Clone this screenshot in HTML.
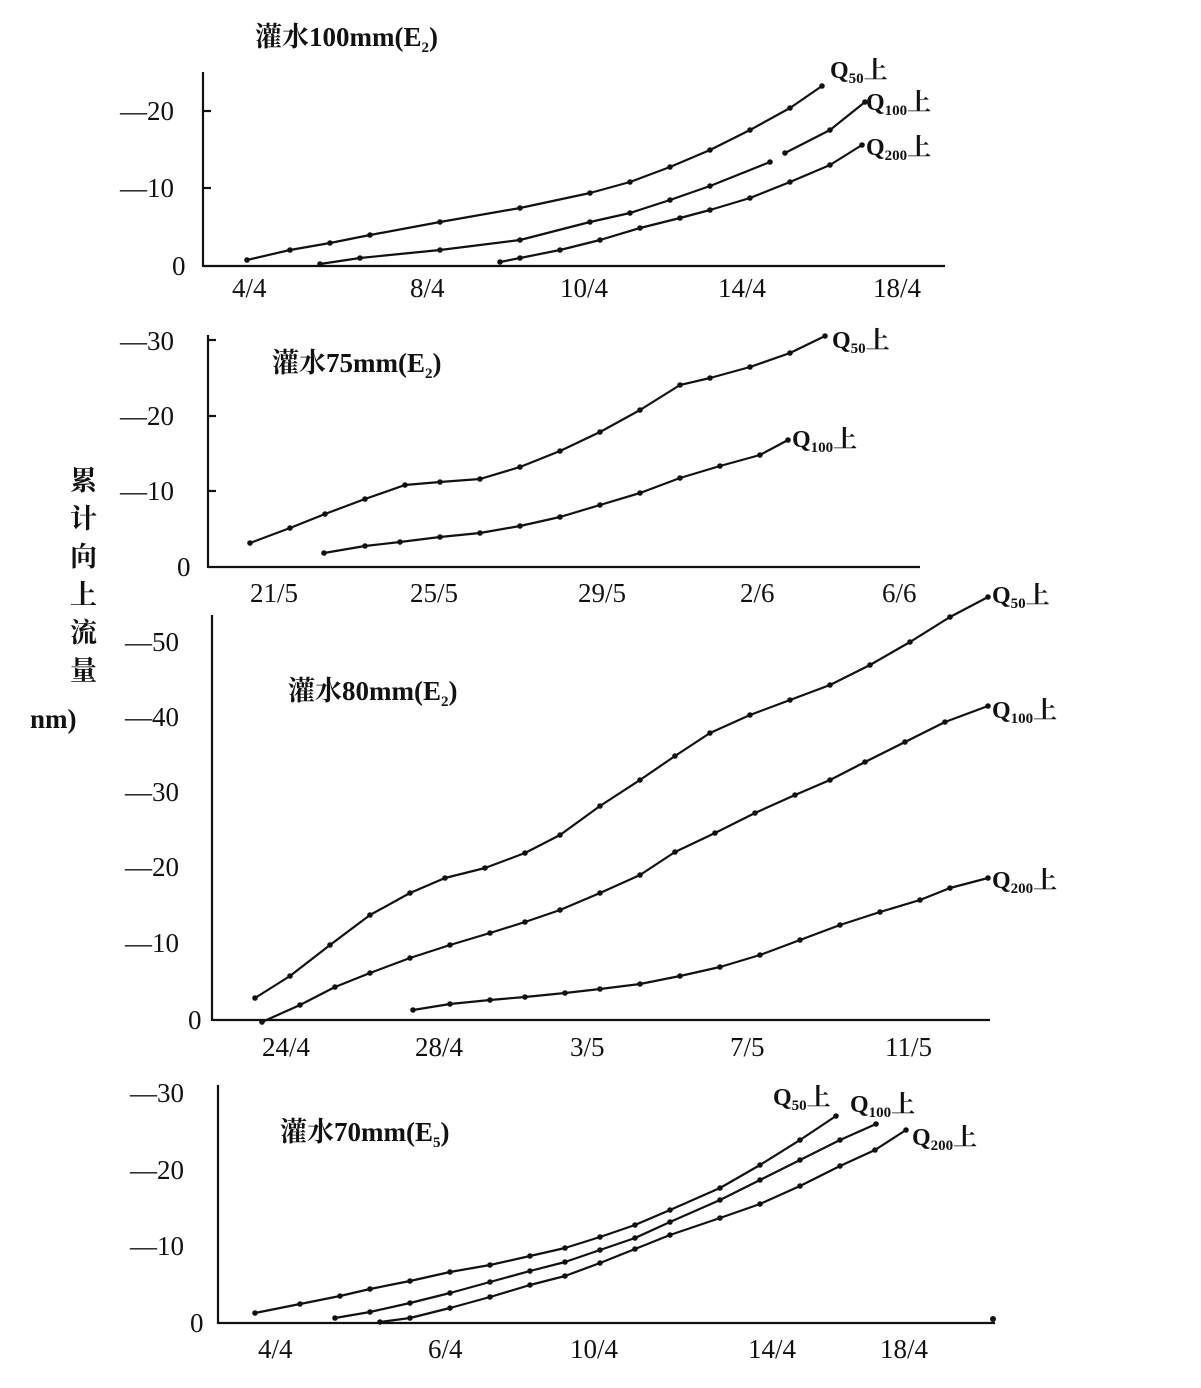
<!DOCTYPE html>
<html><head><meta charset="utf-8"><style>
body{margin:0;background:#fff}
svg{display:block}
text{font-family:"Liberation Serif","Noto Serif CJK SC",serif;fill:#111}
.t{font-size:27px;font-weight:bold}
.n{font-size:27px}
.q{font-size:24px;font-weight:bold}
.s{font-size:15px;font-weight:bold}
polyline{fill:none;stroke:#111;stroke-width:2.2;stroke-linejoin:round}
line{stroke:#111;stroke-width:2.2}
</style></head><body>
<svg width="1201" height="1388" viewBox="0 0 1201 1388" xmlns="http://www.w3.org/2000/svg">
<g id="p1">
<line x1="203" y1="72" x2="203" y2="267"/><line x1="203" y1="266" x2="945" y2="266"/>
<line x1="203" y1="188" x2="211" y2="188"/><line x1="203" y1="111" x2="211" y2="111"/>
<text class="n" x="120" y="120">—20</text><text class="n" x="120" y="197">—10</text><text class="n" x="172" y="275">0</text>
<text class="n" x="232" y="297">4/4</text><text class="n" x="410" y="297">8/4</text><text class="n" x="560" y="297">10/4</text><text class="n" x="718" y="297">14/4</text><text class="n" x="873" y="297">18/4</text>
<text class="t" x="255" y="46">灌水100mm(E<tspan class="s" dy="6">2</tspan><tspan dy="-6">)</tspan></text>
<polyline points="247,260 290,250 330,243 370,235 440,222 520,208 590,193 630,182 670,167 710,150 750,130 790,108 822,86"/>
<polyline points="320,264 360,258 440,250 520,240 590,222 630,213 670,200 710,186 770,162"/>
<polyline points="785,153 830,130 865,102"/>
<polyline points="500,262 520,258 560,250 600,240 640,228 680,218 710,210 750,198 790,182 830,165 862,145"/>
<text class="q" x="830" y="78">Q<tspan class="s" dy="5">50</tspan><tspan dy="-5">上</tspan></text>
<text class="q" x="866" y="110">Q<tspan class="s" dy="5">100</tspan><tspan dy="-5">上</tspan></text>
<text class="q" x="866" y="155">Q<tspan class="s" dy="5">200</tspan><tspan dy="-5">上</tspan></text>
</g>
<g id="p2">
<line x1="208" y1="335" x2="208" y2="568"/><line x1="208" y1="567" x2="920" y2="567"/>
<line x1="208" y1="491" x2="216" y2="491"/><line x1="208" y1="416" x2="216" y2="416"/><line x1="208" y1="340" x2="216" y2="340"/>
<text class="n" x="120" y="350">—30</text><text class="n" x="120" y="425">—20</text><text class="n" x="120" y="500">—10</text><text class="n" x="177" y="576">0</text>
<text class="n" x="250" y="602">21/5</text><text class="n" x="410" y="602">25/5</text><text class="n" x="578" y="602">29/5</text><text class="n" x="740" y="602">2/6</text><text class="n" x="882" y="602">6/6</text>
<text class="t" x="272" y="372">灌水75mm(E<tspan class="s" dy="6">2</tspan><tspan dy="-6">)</tspan></text>
<polyline points="250,543 290,528 325,514 365,499 405,485 440,482 480,479 520,467 560,451 600,432 640,410 680,385 710,378 750,367 790,353 825,336"/>
<polyline points="324,553 365,546 400,542 440,537 480,533 520,526 560,517 600,505 640,493 680,478 720,466 760,455 788,440"/>
<text class="q" x="832" y="348">Q<tspan class="s" dy="5">50</tspan><tspan dy="-5">上</tspan></text>
<text class="q" x="792" y="447">Q<tspan class="s" dy="5">100</tspan><tspan dy="-5">上</tspan></text>
</g>
<text class="t" x="70" y="490">累</text><text class="t" x="70" y="528">计</text><text class="t" x="70" y="566">向</text><text class="t" x="70" y="604">上</text><text class="t" x="70" y="642">流</text><text class="t" x="70" y="680">量</text>
<text class="t" x="30" y="728">nm)</text>
<g id="p3">
<line x1="212" y1="615" x2="212" y2="1021"/><line x1="212" y1="1020" x2="990" y2="1020"/>
<text class="n" x="125" y="952">—10</text><text class="n" x="125" y="876">—20</text><text class="n" x="125" y="801">—30</text><text class="n" x="125" y="726">—40</text><text class="n" x="125" y="651">—50</text>
<text class="n" x="188" y="1029">0</text>
<text class="n" x="262" y="1056">24/4</text><text class="n" x="415" y="1056">28/4</text><text class="n" x="570" y="1056">3/5</text><text class="n" x="730" y="1056">7/5</text><text class="n" x="885" y="1056">11/5</text>
<text class="t" x="288" y="700">灌水80mm(E<tspan class="s" dy="6">2</tspan><tspan dy="-6">)</tspan></text>
<polyline points="255,998 290,976 330,945 370,915 410,893 445,878 485,868 525,853 560,835 600,806 640,780 675,756 710,733 750,715 790,700 830,685 870,665 910,642 950,617 988,597"/>
<polyline points="262,1022 300,1005 335,987 370,973 410,958 450,945 490,933 525,922 560,910 600,893 640,875 675,852 715,833 755,813 795,795 830,780 865,762 905,742 945,722 988,706"/>
<polyline points="413,1010 450,1004 490,1000 525,997 565,993 600,989 640,984 680,976 720,967 760,955 800,940 840,925 880,912 920,900 950,888 988,878"/>
<text class="q" x="992" y="603">Q<tspan class="s" dy="5">50</tspan><tspan dy="-5">上</tspan></text>
<text class="q" x="992" y="718">Q<tspan class="s" dy="5">100</tspan><tspan dy="-5">上</tspan></text>
<text class="q" x="992" y="888">Q<tspan class="s" dy="5">200</tspan><tspan dy="-5">上</tspan></text>
</g>
<g id="p4">
<line x1="218" y1="1085" x2="218" y2="1324"/><line x1="218" y1="1323" x2="995" y2="1323"/>
<text class="n" x="130" y="1102">—30</text><text class="n" x="130" y="1179">—20</text><text class="n" x="130" y="1255">—10</text><text class="n" x="190" y="1332">0</text>
<text class="n" x="258" y="1358">4/4</text><text class="n" x="428" y="1358">6/4</text><text class="n" x="570" y="1358">10/4</text><text class="n" x="748" y="1358">14/4</text><text class="n" x="880" y="1358">18/4</text>
<text class="t" x="280" y="1141">灌水70mm(E<tspan class="s" dy="6">5</tspan><tspan dy="-6">)</tspan></text>
<polyline points="255,1313 300,1304 340,1296 370,1289 410,1281 450,1272 490,1265 530,1256 565,1248 600,1237 635,1225 670,1210 720,1188 760,1165 800,1140 836,1116"/>
<polyline points="335,1318 370,1312 410,1303 450,1293 490,1282 530,1271 565,1262 600,1250 635,1238 670,1222 720,1200 760,1180 800,1160 840,1140 876,1124"/>
<polyline points="380,1322 410,1318 450,1308 490,1297 530,1285 565,1276 600,1263 635,1249 670,1235 720,1218 760,1204 800,1186 840,1166 875,1150 906,1130"/>
<circle cx="993" cy="1319" r="3" fill="#111"/>
<text class="q" x="773" y="1105">Q<tspan class="s" dy="5">50</tspan><tspan dy="-5">上</tspan></text>
<text class="q" x="850" y="1112">Q<tspan class="s" dy="5">100</tspan><tspan dy="-5">上</tspan></text>
<text class="q" x="912" y="1145">Q<tspan class="s" dy="5">200</tspan><tspan dy="-5">上</tspan></text>
</g>
<script>
document.querySelectorAll('polyline').forEach(function(p){
 p.getAttribute('points').trim().split(/\s+/).forEach(function(s){
  var a=s.split(','),c=document.createElementNS('http://www.w3.org/2000/svg','circle');
  c.setAttribute('cx',a[0]);c.setAttribute('cy',a[1]);c.setAttribute('r','2.8');c.setAttribute('fill','#111');
  p.parentNode.appendChild(c);});
});
</script>
</svg>
</body></html>
